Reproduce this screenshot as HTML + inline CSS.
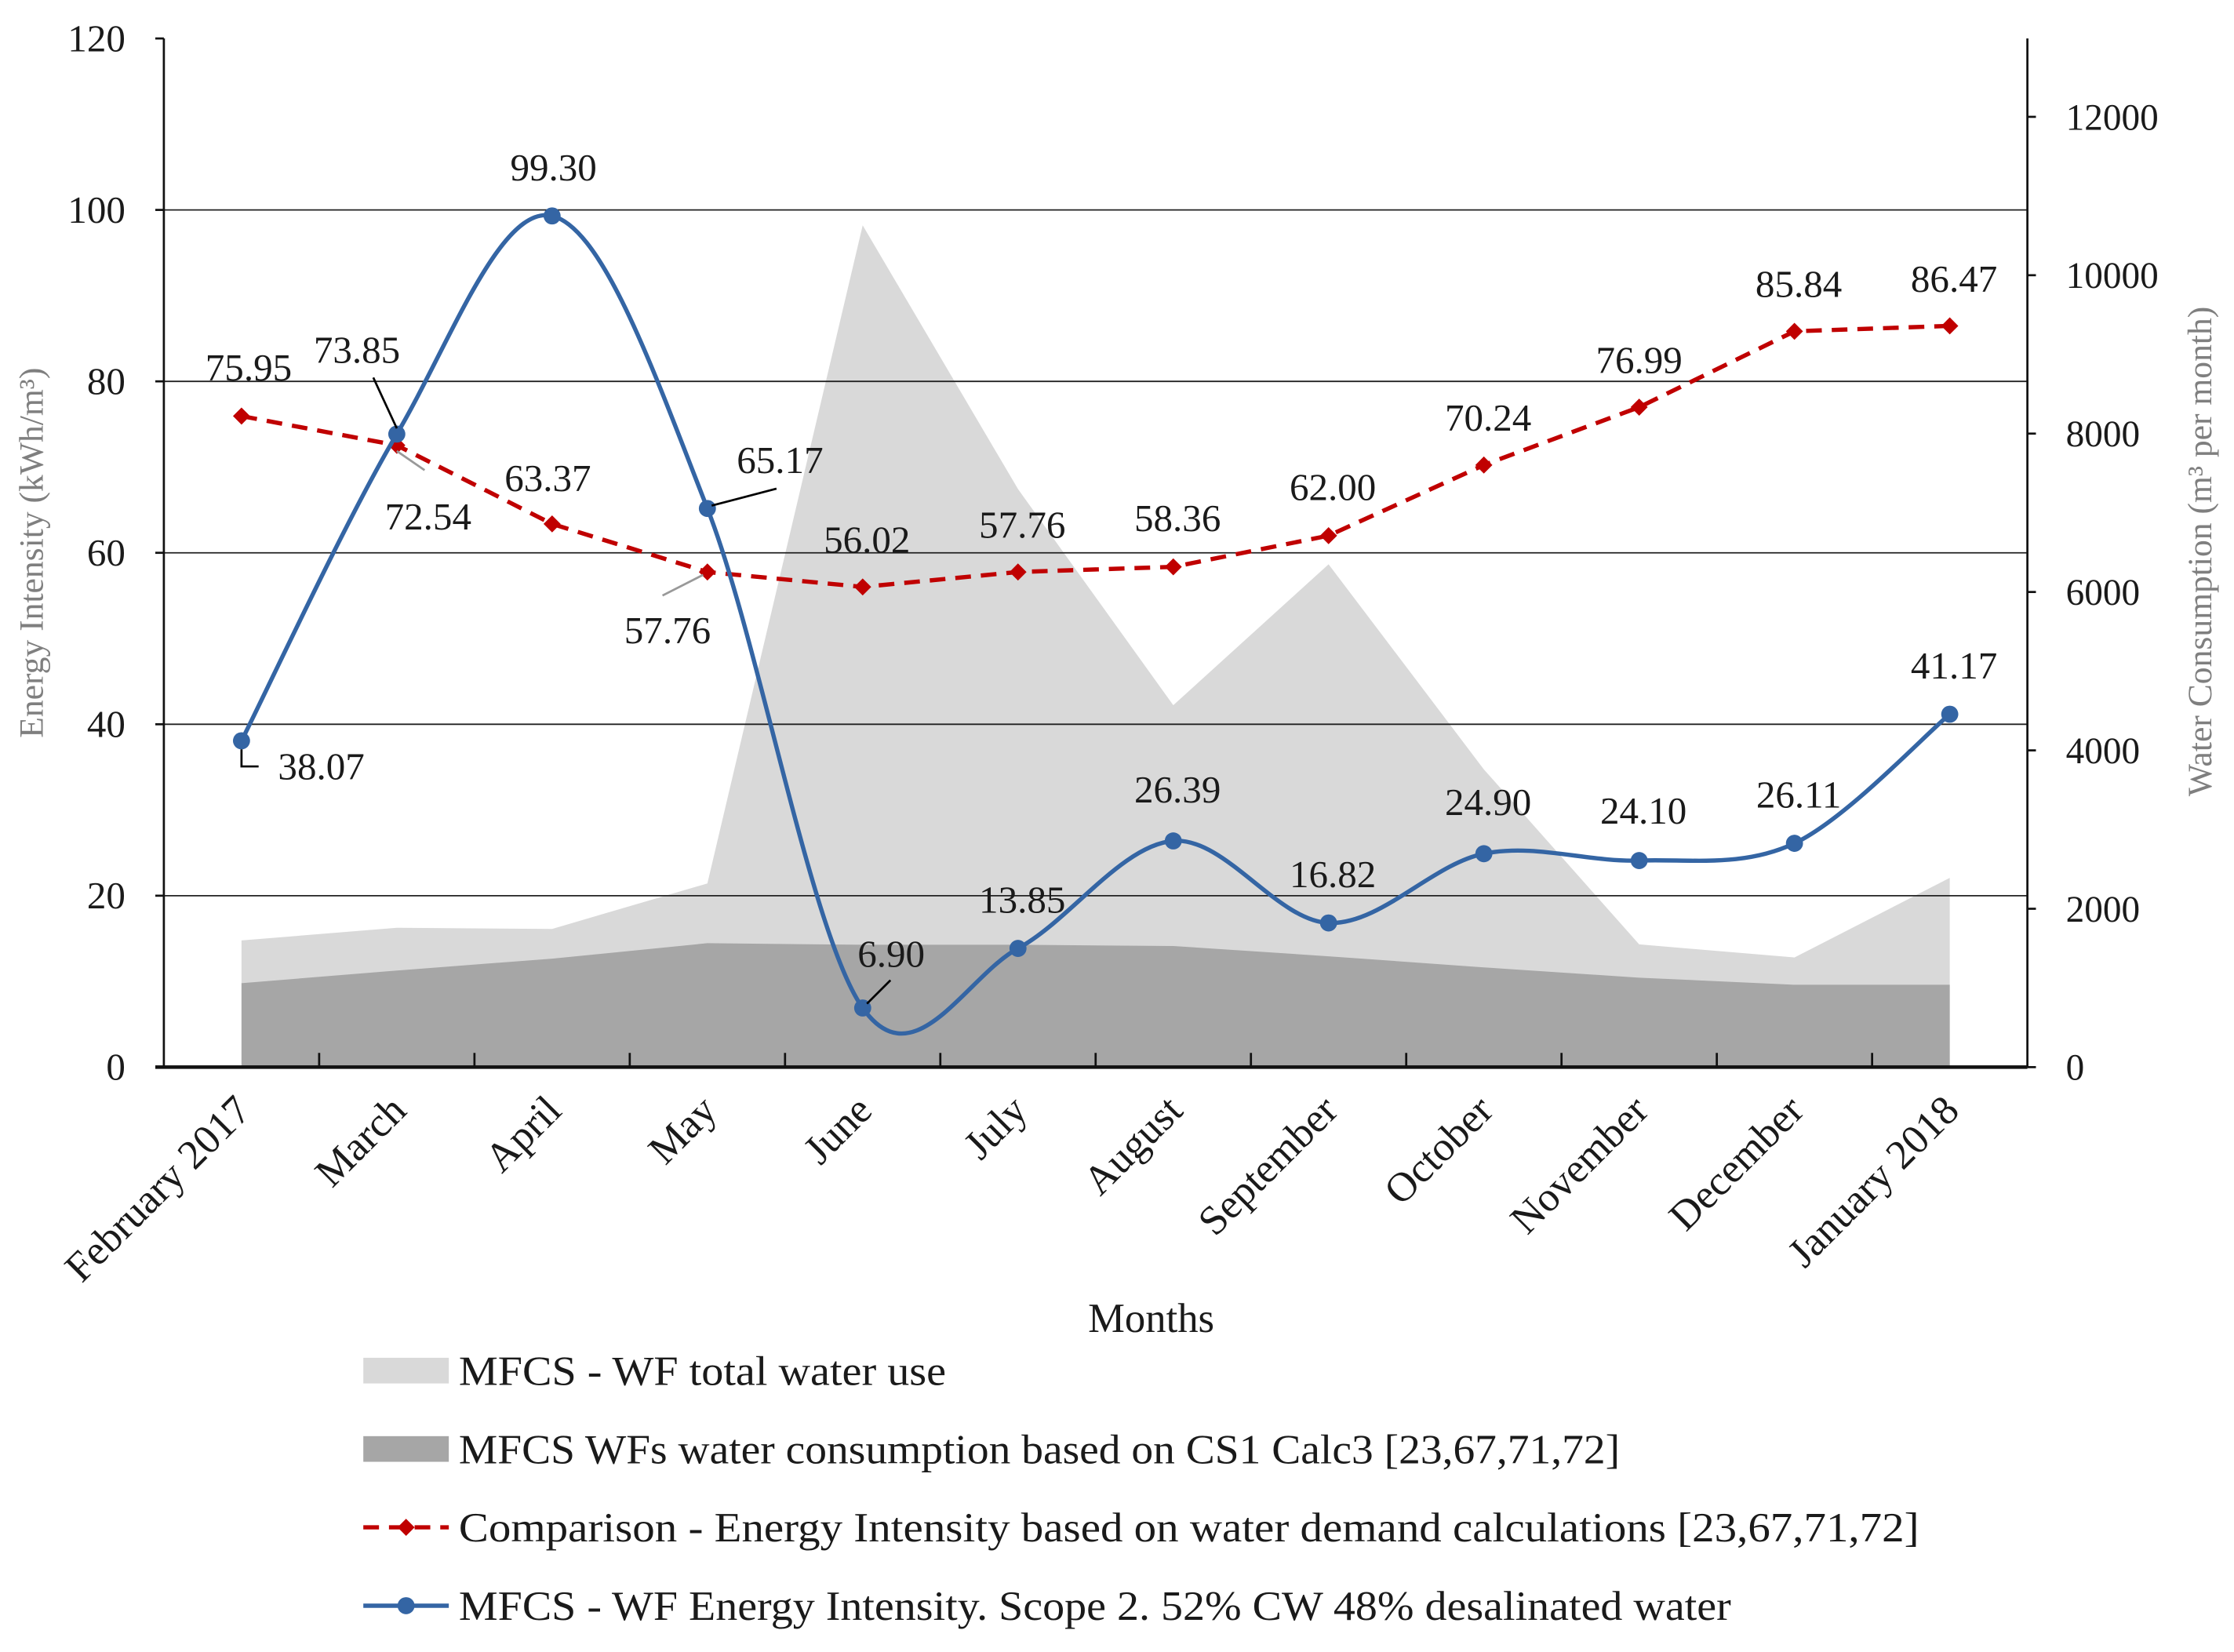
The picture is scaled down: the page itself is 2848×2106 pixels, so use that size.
<!DOCTYPE html>
<html><head><meta charset="utf-8"><style>
html,body{margin:0;padding:0;background:#fff}
svg{display:block}
text{font-family:"Liberation Serif",serif;fill:#1a1a1a}
</style></head><body>
<svg id="chart" width="2848" height="2106" viewBox="0 0 1568 1159.5" xmlns="http://www.w3.org/2000/svg">
<g id="areas"></g><g id="grid"></g><g id="axes"></g><g id="lines"></g><g id="labels"></g><g id="legend"></g>
</svg>
<script>
const categories=["February 2017","March","April","May","June","July","August","September","October","November","December","January 2018"];
const totalWater=[1600,1760,1745,2320,10630,7300,4570,6350,3760,1550,1385,2390];
const consumption=[1060,1220,1370,1565,1545,1545,1530,1400,1260,1130,1040,1040];
const comparison=[75.95,72.54,63.37,57.76,56.02,57.76,58.36,62.00,70.24,76.99,85.84,86.47];
const intensity=[38.07,73.85,99.30,65.17,6.90,13.85,26.39,16.82,24.90,24.10,26.11,41.17];
const leftTicks=[0,20,40,60,80,100,120];
const rightTicks=[0,2000,4000,6000,8000,10000,12000];

const NS="http://www.w3.org/2000/svg";
const L=115,R=1423,T=27,B=749;
const bw=(R-L)/categories.length;
const x=i=>L+bw*(i+0.5);
const yL=v=>B-(v/120)*(B-T);
const yR=v=>B-(v/12000)*(B-82);
function el(tag,attrs,parent,txt){const e=document.createElementNS(NS,tag);for(const k in attrs)e.setAttribute(k,attrs[k]);if(txt!=null)e.textContent=txt;parent.appendChild(e);return e;}
const g=id=>document.getElementById(id);

function areaPath(arr){let d=`M${x(0)},${B}`;arr.forEach((v,i)=>d+=` L${x(i)},${yR(v)}`);d+=` L${x(arr.length-1)},${B} Z`;return d;}
let a1=el('path',{d:areaPath(totalWater),fill:'#d9d9d9'},g('areas'));


let a2=el('path',{d:areaPath(consumption),fill:'#a6a6a6'},g('areas'));



leftTicks.forEach(t=>{if(t>0&&t<120){let l=el('line',{x1:L,x2:R,y1:yL(t),y2:yL(t),stroke:'#222','stroke-width':1},g('grid'));

}});

const ax=g('axes');
el('line',{x1:L,x2:L,y1:T,y2:B,stroke:'#111','stroke-width':1.5},ax);
el('line',{x1:R,x2:R,y1:T,y2:B,stroke:'#111','stroke-width':1.5},ax);
el('line',{x1:L-6,x2:R,y1:B,y2:B,stroke:'#111','stroke-width':2.5},ax);
leftTicks.forEach(t=>{el('line',{x1:L-6,x2:L,y1:yL(t),y2:yL(t),stroke:'#111','stroke-width':1.5},ax);
let tx=el('text',{x:L-27,y:yL(t)+9,'text-anchor':'end','font-size':27},ax,String(t));

});
rightTicks.forEach(t=>{el('line',{x1:R,x2:R+6,y1:yR(t),y2:yR(t),stroke:'#111','stroke-width':1.5},ax);
let tx=el('text',{x:R+27,y:yR(t)+9,'font-size':26},ax,String(t));

});
for(let i=1;i<categories.length;i++){el('line',{x1:L+bw*i,x2:L+bw*i,y1:B-10,y2:B,stroke:'#111','stroke-width':1.5},ax);}
categories.forEach((c,i)=>{let tx=el('text',{x:x(i)+8,y:B+32,'text-anchor':'end','font-size':29,transform:`rotate(-45 ${x(i)+8} ${B+32})`},ax,c);

});
let xt=el('text',{x:808,y:935,'text-anchor':'middle','font-size':29},ax,'Months');


let yt=el('text',{x:0,y:0,'text-anchor':'middle','font-size':24,transform:'translate(30 388) rotate(-90)',style:'fill:#7f7f7f'},ax,'Energy Intensity (kWh/m³)');


let yt2=el('text',{x:0,y:0,'text-anchor':'middle','font-size':24,transform:'translate(1552 387) rotate(-90)',style:'fill:#7f7f7f'},ax,'Water Consumption (m³ per month)');



const ln=g('lines');
let rd=comparison.map((v,i)=>(i?'L':'M')+x(i)+','+yL(v)).join(' ');
let rp=el('path',{d:rd,fill:'none',stroke:'#c00000','stroke-width':3,'stroke-dasharray':'11 7'},ln);


comparison.forEach((v,i)=>{let m=el('path',{d:`M${x(i)},${yL(v)-6} l6,6 l-6,6 l-6,-6 Z`,fill:'#c00000'},ln);

});

const pts=intensity.map((v,i)=>[x(i),yL(v)]);
let bd=`M${pts[0][0]},${pts[0][1]}`;
for(let i=0;i<pts.length-1;i++){const p0=pts[i-1]||pts[i],p1=pts[i],p2=pts[i+1],p3=pts[i+2]||p2;
bd+=` C${p1[0]+(p2[0]-p0[0])/6},${p1[1]+(p2[1]-p0[1])/6} ${p2[0]-(p3[0]-p1[0])/6},${p2[1]-(p3[1]-p1[1])/6} ${p2[0]},${p2[1]}`;}
let bp=el('path',{d:bd,fill:'none',stroke:'#3465a4','stroke-width':3},ln);


pts.forEach(p=>{let c=el('circle',{cx:p[0],cy:p[1],r:6,fill:'#3465a4'},ln);

});

const lb=g('labels');
const redOff=[[5,-25],[22,59],[-3,-23],[-28,50],[3,-24],[3,-24],[3,-25],[3,-25],[3,-24],[0,-24],[3,-24],[3,-24]];
const blueOff=[[56,27],[-28,-50],[1,-25],[51,-25],[20,-29],[3,-25],[3,-27],[3,-25],[3,-27],[3,-26],[3,-25],[3,-25]];
comparison.forEach((v,i)=>{let t=el('text',{x:x(i)+redOff[i][0],y:yL(v)+redOff[i][1],'text-anchor':'middle','font-size':27},lb,v.toFixed(2));

});
intensity.forEach((v,i)=>{let t=el('text',{x:x(i)+blueOff[i][0],y:yL(v)+blueOff[i][1],'text-anchor':'middle','font-size':27},lb,v.toFixed(2));

});
el('path',{d:`M${x(0)},${yL(intensity[0])+6} v12 h12`,fill:'none',stroke:'#000','stroke-width':1.5},lb);
el('line',{x1:262,y1:265,x2:x(1),y2:yL(intensity[1])-4,stroke:'#000','stroke-width':1.5},lb);
el('line',{x1:x(1),y1:yL(comparison[1])+4,x2:298,y2:330,stroke:'#999','stroke-width':1.5},lb);
el('line',{x1:465,y1:418,x2:x(3)-3,y2:yL(comparison[3])+2,stroke:'#999','stroke-width':1.5},lb);
el('line',{x1:x(3)+3,y1:yL(intensity[3])-2,x2:545,y2:343,stroke:'#000','stroke-width':1.5},lb);
el('line',{x1:x(4)+3,y1:yL(intensity[4])-3,x2:625,y2:688,stroke:'#000','stroke-width':1.5},lb);

const lg=g('legend');
const legendItems=[
 ['legend-total-water-use','MFCS - WF total water use',962,'lightbox',342],
 ['legend-water-consumption','MFCS WFs water consumption based on CS1 Calc3 [23,67,71,72]',1017,'darkbox',815],
 ['legend-comparison','Comparison - Energy Intensity based on water demand calculations [23,67,71,72]',1072,'red',1025],
 ['legend-energy-intensity','MFCS - WF Energy Intensity. Scope 2. 52% CW 48% desalinated water',1127,'blue',893]];
legendItems.forEach(it=>{const gg=el('g',{},lg);


const y=it[2];
if(it[3]==='lightbox')el('rect',{x:255,y:y-9,width:60,height:18,fill:'#d9d9d9'},gg);
if(it[3]==='darkbox')el('rect',{x:255,y:y-9,width:60,height:18,fill:'#a6a6a6'},gg);
if(it[3]==='red'){el('line',{x1:255,x2:315,y1:y,y2:y,stroke:'#c00000','stroke-width':3,'stroke-dasharray':'11 7'},gg);el('path',{d:`M285,${y-6} l6,6 l-6,6 l-6,-6Z`,fill:'#c00000'},gg);}
if(it[3]==='blue'){el('line',{x1:255,x2:315,y1:y,y2:y,stroke:'#3465a4','stroke-width':3},gg);el('circle',{cx:285,cy:y,r:6,fill:'#3465a4'},gg);}
el('text',{x:322,y:y+10,'font-size':29,textLength:it[4],lengthAdjust:'spacingAndGlyphs'},gg,it[1]);});
</script>
</body></html>
